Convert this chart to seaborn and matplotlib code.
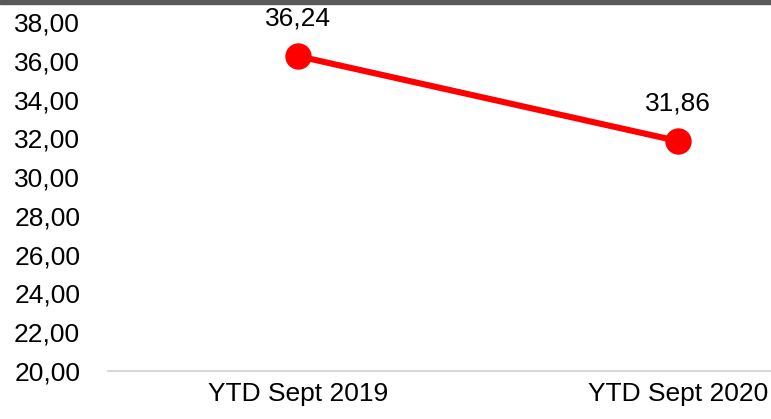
import matplotlib
matplotlib.use("Agg")
import matplotlib.pyplot as plt
import seaborn as sns
import pandas as pd
from matplotlib.ticker import FuncFormatter, MultipleLocator
from matplotlib.patches import Rectangle

# data
periods = ["YTD Sept 2019", "YTD Sept 2020"]
values = [36.24, 31.86]

df = pd.DataFrame({"periode": periods, "waarde": values})

sns.set_theme(style="white")
plt.rcParams["font.family"] = ["Liberation Sans", "DejaVu Sans"]

fig = plt.figure(figsize=(7.71, 4.19), dpi=100)
# plot area runs past the right edge, like the cropped original
ax = fig.add_axes([108 / 771, 48 / 419, 760 / 771, 349 / 419])

sns.lineplot(data=df, x="periode", y="waarde", ax=ax, color="#ff0000",
             linewidth=4.4, marker="o", markersize=19, markeredgewidth=0,
             sort=False)

for i, v in enumerate(values):
    ax.annotate(f"{v:.2f}".replace(".", ","), (i, v), xytext=(0, 27),
                textcoords="offset points", ha="center", va="center",
                fontsize=19, color="black")

ax.set_ylim(20, 38)
ax.set_xlim(-0.5, 1.5)
ax.yaxis.set_major_locator(MultipleLocator(2))
ax.yaxis.set_major_formatter(FuncFormatter(lambda y, _: f"{y:.2f}".replace(".", ",")))
ax.tick_params(axis="y", length=0, pad=20, labelsize=19, colors="black")
ax.tick_params(axis="x", length=0, pad=8, labelsize=19, colors="black")
ax.set_xlabel("")
ax.set_ylabel("")

for s in ["top", "right", "left"]:
    ax.spines[s].set_visible(False)
ax.spines["bottom"].set_color("#d9d9d9")
ax.spines["bottom"].set_linewidth(1.5)

# dark strip along the top edge
fig.add_artist(Rectangle((0, 1 - 4 / 419), 1, 4 / 419, transform=fig.transFigure,
                         color="#595959", zorder=10))

fig.savefig("out.png", dpi=100)
